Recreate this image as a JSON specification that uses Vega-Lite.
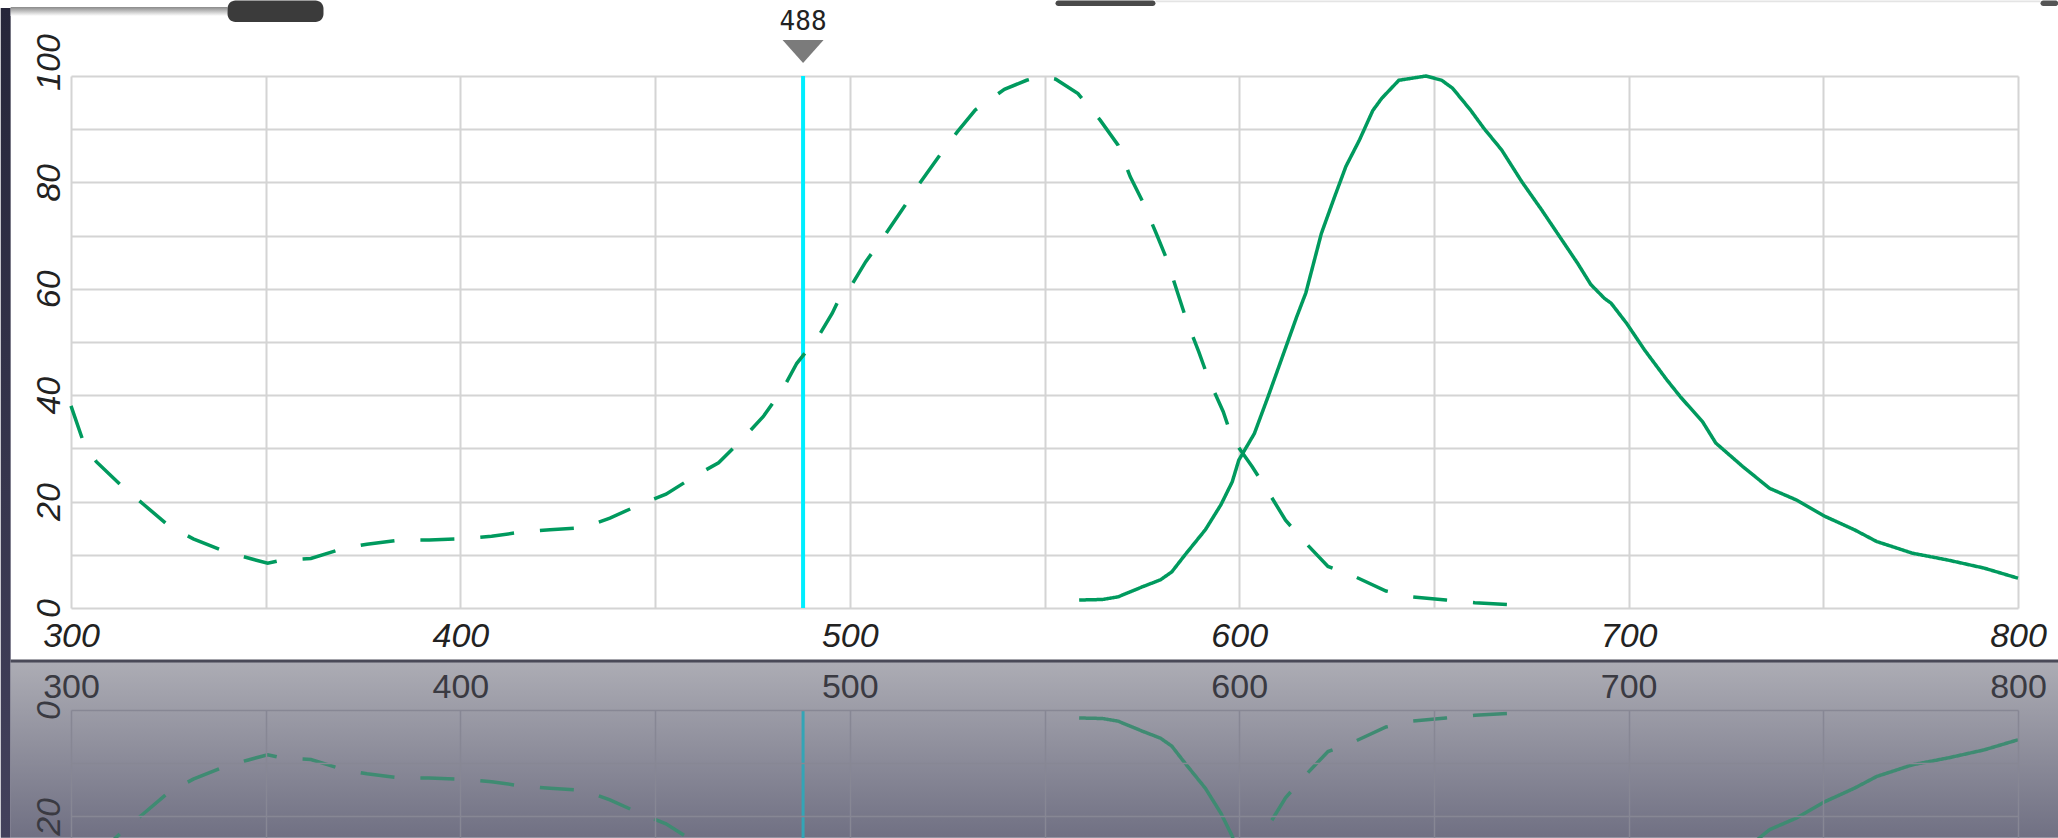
{
  "$schema": "https://vega.github.io/schema/vega-lite/v6.json",
  "autosize": {"type": "pad"},
  "padding": 0,
  "background": "white",
  "bounds": "flush",
  "spacing": 102,
  "config": {"view": {"stroke": null}},
  "datasets": {
    "laser": [{"wavelength": 488}],
    "spectra": [
      {"wl": 300, "v": 38, "s": "Excitation"}, {"wl": 303, "v": 31.6, "s": "Excitation"}, {"wl": 306.5, "v": 27.5, "s": "Excitation"},
      {"wl": 312.8, "v": 23.1, "s": "Excitation"}, {"wl": 318.6, "v": 19.5, "s": "Excitation"}, {"wl": 325.2, "v": 15.4, "s": "Excitation"},
      {"wl": 331.4, "v": 13, "s": "Excitation"}, {"wl": 339.6, "v": 10.6, "s": "Excitation"}, {"wl": 346, "v": 9.3, "s": "Excitation"},
      {"wl": 350.5, "v": 8.4, "s": "Excitation"}, {"wl": 354, "v": 9, "s": "Excitation"}, {"wl": 361.6, "v": 9.3, "s": "Excitation"},
      {"wl": 370, "v": 11.2, "s": "Excitation"}, {"wl": 376, "v": 12, "s": "Excitation"}, {"wl": 385, "v": 12.8, "s": "Excitation"},
      {"wl": 392, "v": 12.8, "s": "Excitation"}, {"wl": 400.7, "v": 13, "s": "Excitation"}, {"wl": 408, "v": 13.5, "s": "Excitation"},
      {"wl": 416, "v": 14.3, "s": "Excitation"}, {"wl": 423, "v": 14.7, "s": "Excitation"}, {"wl": 431.5, "v": 15.1, "s": "Excitation"},
      {"wl": 438.4, "v": 16.9, "s": "Excitation"}, {"wl": 446, "v": 19.4, "s": "Excitation"}, {"wl": 452.8, "v": 21.4, "s": "Excitation"},
      {"wl": 460.2, "v": 24.8, "s": "Excitation"}, {"wl": 466.3, "v": 27.3, "s": "Excitation"}, {"wl": 472.6, "v": 31.9, "s": "Excitation"},
      {"wl": 477.8, "v": 36, "s": "Excitation"}, {"wl": 482.9, "v": 41.3, "s": "Excitation"}, {"wl": 486.4, "v": 46, "s": "Excitation"},
      {"wl": 491.8, "v": 50.9, "s": "Excitation"}, {"wl": 495.5, "v": 55.4, "s": "Excitation"}, {"wl": 497.3, "v": 58.2, "s": "Excitation"},
      {"wl": 500.7, "v": 61, "s": "Excitation"}, {"wl": 504.1, "v": 65.1, "s": "Excitation"}, {"wl": 509.3, "v": 70.4, "s": "Excitation"},
      {"wl": 513.3, "v": 74.7, "s": "Excitation"}, {"wl": 517.9, "v": 79.8, "s": "Excitation"}, {"wl": 522.5, "v": 84.5, "s": "Excitation"},
      {"wl": 527.6, "v": 89.5, "s": "Excitation"}, {"wl": 532.2, "v": 93.6, "s": "Excitation"}, {"wl": 539.7, "v": 97.5, "s": "Excitation"},
      {"wl": 545.4, "v": 99.2, "s": "Excitation"}, {"wl": 549, "v": 100, "s": "Excitation"}, {"wl": 552.9, "v": 99.4, "s": "Excitation"},
      {"wl": 558.6, "v": 96.7, "s": "Excitation"}, {"wl": 564.3, "v": 91.7, "s": "Excitation"}, {"wl": 568.9, "v": 87, "s": "Excitation"},
      {"wl": 572, "v": 81.1, "s": "Excitation"}, {"wl": 575.2, "v": 76.4, "s": "Excitation"}, {"wl": 578.7, "v": 70.4, "s": "Excitation"},
      {"wl": 581.5, "v": 65.4, "s": "Excitation"}, {"wl": 584.2, "v": 59.2, "s": "Excitation"}, {"wl": 586.6, "v": 53.8, "s": "Excitation"},
      {"wl": 589.6, "v": 48.2, "s": "Excitation"}, {"wl": 592.2, "v": 42.9, "s": "Excitation"}, {"wl": 595.9, "v": 36.9, "s": "Excitation"},
      {"wl": 598.2, "v": 31.9, "s": "Excitation"}, {"wl": 603.3, "v": 26.6, "s": "Excitation"}, {"wl": 607.4, "v": 21.9, "s": "Excitation"},
      {"wl": 611.9, "v": 16.5, "s": "Excitation"}, {"wl": 617.1, "v": 12.2, "s": "Excitation"}, {"wl": 622.8, "v": 7.8, "s": "Excitation"},
      {"wl": 629.7, "v": 5.9, "s": "Excitation"}, {"wl": 637.7, "v": 3.2, "s": "Excitation"}, {"wl": 644.5, "v": 2.1, "s": "Excitation"},
      {"wl": 653.1, "v": 1.5, "s": "Excitation"}, {"wl": 660.5, "v": 1, "s": "Excitation"}, {"wl": 669.7, "v": 0.6, "s": "Excitation"},
      {"wl": 558.9, "v": 1.5, "s": "Emission"}, {"wl": 564.9, "v": 1.6, "s": "Emission"}, {"wl": 568.9, "v": 2.1, "s": "Emission"},
      {"wl": 575.2, "v": 4, "s": "Emission"}, {"wl": 579.8, "v": 5.3, "s": "Emission"}, {"wl": 582.7, "v": 6.8, "s": "Emission"},
      {"wl": 586.1, "v": 10, "s": "Emission"}, {"wl": 591.3, "v": 14.7, "s": "Emission"}, {"wl": 595.3, "v": 19.4, "s": "Emission"},
      {"wl": 598.2, "v": 23.7, "s": "Emission"}, {"wl": 599.9, "v": 27.8, "s": "Emission"}, {"wl": 603.9, "v": 32.8, "s": "Emission"},
      {"wl": 607.4, "v": 39.7, "s": "Emission"}, {"wl": 610.2, "v": 45.4, "s": "Emission"}, {"wl": 612.5, "v": 50.1, "s": "Emission"},
      {"wl": 614.8, "v": 54.8, "s": "Emission"}, {"wl": 617.1, "v": 59.2, "s": "Emission"}, {"wl": 621.1, "v": 70.4, "s": "Emission"},
      {"wl": 624.5, "v": 77.3, "s": "Emission"}, {"wl": 627.4, "v": 83, "s": "Emission"}, {"wl": 630.9, "v": 88, "s": "Emission"},
      {"wl": 634.3, "v": 93.5, "s": "Emission"}, {"wl": 636.6, "v": 95.8, "s": "Emission"}, {"wl": 641, "v": 99.2, "s": "Emission"},
      {"wl": 648, "v": 100, "s": "Emission"}, {"wl": 652, "v": 99.2, "s": "Emission"}, {"wl": 654.8, "v": 97.7, "s": "Emission"},
      {"wl": 659.4, "v": 93.6, "s": "Emission"}, {"wl": 662.8, "v": 90.2, "s": "Emission"}, {"wl": 667.4, "v": 86.1, "s": "Emission"},
      {"wl": 672.6, "v": 80.1, "s": "Emission"}, {"wl": 677.7, "v": 74.8, "s": "Emission"}, {"wl": 682.3, "v": 69.8, "s": "Emission"},
      {"wl": 686.9, "v": 64.8, "s": "Emission"}, {"wl": 690.3, "v": 60.8, "s": "Emission"}, {"wl": 693.8, "v": 58.2, "s": "Emission"},
      {"wl": 695.5, "v": 57.3, "s": "Emission"}, {"wl": 699.5, "v": 53.5, "s": "Emission"}, {"wl": 704.1, "v": 48.5, "s": "Emission"},
      {"wl": 709.8, "v": 42.9, "s": "Emission"}, {"wl": 713.3, "v": 39.7, "s": "Emission"}, {"wl": 719, "v": 35, "s": "Emission"},
      {"wl": 722.4, "v": 31, "s": "Emission"}, {"wl": 729.3, "v": 26.6, "s": "Emission"}, {"wl": 736.2, "v": 22.5, "s": "Emission"},
      {"wl": 743.1, "v": 20.3, "s": "Emission"}, {"wl": 750.5, "v": 17.2, "s": "Emission"}, {"wl": 758, "v": 14.7, "s": "Emission"},
      {"wl": 763.7, "v": 12.5, "s": "Emission"}, {"wl": 772.9, "v": 10.3, "s": "Emission"}, {"wl": 782.1, "v": 9, "s": "Emission"},
      {"wl": 791.3, "v": 7.5, "s": "Emission"}, {"wl": 800, "v": 5.6, "s": "Emission"}
    ]
  },
  "vconcat": [
    {
      "width": 1947,
      "height": 532,
      "layer": [
        {
          "data": {"values": [{}]},
          "mark": {"type": "rect", "color": {"gradient": "linear", "x1": 0, "y1": 0, "x2": 0, "y2": 1, "stops": [{"offset": 0, "color": "#26263a"}, {"offset": 1, "color": "#43415c"}]}},
          "encoding": {
            "x": {"datum": 281.95, "scale": {"domain": [300, 800], "nice": false, "zero": false}},
            "x2": {"datum": 284.5},
            "y": {"datum": 112.78, "scale": {"domain": [0, 100], "nice": false}},
            "y2": {"datum": -43.2}
          }
        },
        {
          "data": {"values": [{}]},
          "mark": {"type": "rect", "color": {"gradient": "linear", "x1": 0, "y1": 0, "x2": 0, "y2": 1, "stops": [{"offset": 0, "color": "#8a8a8a"}, {"offset": 1, "color": "#ffffff"}]}},
          "encoding": {"x": {"datum": 284.5}, "x2": {"datum": 340.19}, "y": {"datum": 112.97}, "y2": {"datum": 111.28}}
        },
        {
          "data": {"values": [{}]},
          "mark": {"type": "rect", "color": "#3b3b3b", "cornerRadius": 8},
          "encoding": {"x": {"datum": 340.19}, "x2": {"datum": 364.84}, "y": {"datum": 114.2}, "y2": {"datum": 110.15}}
        },
        {
          "data": {"values": [{}]},
          "mark": {"type": "rect", "color": "#4a4a4a", "cornerRadius": 3},
          "encoding": {"x": {"datum": 552.82}, "x2": {"datum": 578.5}, "y": {"datum": 114.2}, "y2": {"datum": 113.16}}
        },
        {
          "data": {"values": [{}]},
          "mark": {"type": "rect", "color": "#e4e4e4"},
          "encoding": {"x": {"datum": 578.5}, "x2": {"datum": 805.78}, "y": {"datum": 114.2}, "y2": {"datum": 113.85}}
        },
        {
          "data": {"values": [{}]},
          "mark": {"type": "rect", "color": "#555555", "cornerRadius": 3},
          "encoding": {"x": {"datum": 805.78}, "x2": {"datum": 810.35}, "y": {"datum": 114.2}, "y2": {"datum": 113.16}}
        },
        {
          "data": {"name": "laser"},
          "mark": {"type": "rule", "color": "#00eeff", "strokeWidth": 4},
          "encoding": {"x": {"field": "wavelength", "type": "quantitative"}}
        },
        {
          "data": {"name": "spectra"},
          "mark": {"type": "line", "color": "#009a5e", "strokeWidth": 3.5},
          "encoding": {
            "x": {
              "field": "wl", "type": "quantitative",
              "scale": {"domain": [300, 800], "nice": false, "zero": false},
              "axis": {
                "title": null, "values": [300, 350, 400, 450, 500, 550, 600, 650, 700, 750, 800],
                "labelExpr": "datum.value % 100 === 0 ? datum.label : ''",
                "grid": true, "gridColor": "#d4d4d4", "gridWidth": 2,
                "domain": false, "ticks": false, "tickSize": 0,
                "labelFont": "Liberation Sans", "labelFontStyle": "italic", "labelFontSize": 34, "labelColor": "#222222",
                "labelPadding": 11, "labelBaseline": "top", "labelFlush": false, "labelOverlap": false
              }
            },
            "y": {
              "field": "v", "type": "quantitative",
              "scale": {"domain": [0, 100], "nice": false},
              "axis": {
                "title": null, "values": [0, 10, 20, 30, 40, 50, 60, 70, 80, 90, 100],
                "labelExpr": "datum.value % 20 === 0 ? datum.label : ''",
                "grid": true, "gridColor": "#d4d4d4", "gridWidth": 2,
                "domain": false, "ticks": false, "tickSize": 0,
                "labelFont": "Liberation Sans", "labelFontStyle": "italic", "labelFontSize": 34, "labelColor": "#222222",
                "labelAngle": 270, "labelAlign": "center", "labelBaseline": "alphabetic", "labelPadding": 12,
                "labelOffset": {"condition": {"test": "datum.value === 100", "value": -14}, "value": 0},
                "labelFlush": false, "labelOverlap": false
              }
            },
            "strokeDash": {
              "field": "s", "type": "nominal",
              "scale": {"domain": ["Excitation", "Emission"], "range": [[34, 26], [1, 0]]},
              "legend": null
            }
          }
        },
        {
          "data": {"name": "laser"},
          "mark": {"type": "point", "shape": "M-1,-0.56L1,-0.56L0,0.56Z", "filled": true, "color": "#7b7b7b", "size": 1681, "opacity": 1, "strokeWidth": 0},
          "encoding": {"x": {"field": "wavelength", "type": "quantitative"}, "y": {"datum": 104.6}}
        },
        {
          "data": {"name": "laser"},
          "mark": {"type": "text", "font": "DejaVu Sans Mono", "fontSize": 26, "color": "#222222", "baseline": "middle", "align": "center"},
          "encoding": {"x": {"field": "wavelength", "type": "quantitative"}, "y": {"datum": 110.2}, "text": {"field": "wavelength", "type": "quantitative"}}
        }
      ]
    },
    {
      "width": 1947,
      "height": 128,
      "layer": [
        {
          "data": {"values": [{}]},
          "mark": {"type": "rect", "color": {"gradient": "linear", "x1": 0, "y1": 0, "x2": 0, "y2": 1, "stops": [{"offset": 0, "color": "#4a4a58"}, {"offset": 0.012, "color": "#4a4a58"}, {"offset": 0.022, "color": "#acacb4"}, {"offset": 1, "color": "#707083"}]}},
          "encoding": {
            "x": {"datum": 284.5, "scale": {"domain": [300, 800], "nice": false, "zero": false}},
            "x2": {"datum": 810.35},
            "y": {"datum": -9.49, "scale": {"domain": [0, 24.06], "nice": false, "zero": false, "reverse": true}},
            "y2": {"datum": 24.0}
          }
        },
        {
          "data": {"name": "laser"},
          "mark": {"type": "rule", "color": "#33a5b6", "strokeWidth": 3},
          "encoding": {"x": {"field": "wavelength", "type": "quantitative"}}
        },
        {
          "data": {"name": "spectra"},
          "mark": {"type": "line", "color": "#3f8b72", "strokeWidth": 3.5, "clip": true},
          "encoding": {
            "x": {
              "field": "wl", "type": "quantitative",
              "scale": {"domain": [300, 800], "nice": false, "zero": false},
              "axis": {
                "orient": "top", "title": null, "values": [300, 350, 400, 450, 500, 550, 600, 650, 700, 750, 800],
                "labelExpr": "datum.value % 100 === 0 ? datum.label : ''",
                "grid": true, "gridColor": "#878794", "gridWidth": 1.5, "zindex": 1,
                "domain": false, "ticks": false, "tickSize": 0,
                "labelFont": "Liberation Sans", "labelFontSize": 34, "labelColor": "#3a3a42",
                "labelPadding": 13, "labelBaseline": "alphabetic", "labelFlush": false, "labelOverlap": false
              }
            },
            "y": {
              "field": "v", "type": "quantitative",
              "scale": {"domain": [0, 24.06], "nice": false, "zero": false, "reverse": true},
              "axis": {
                "title": null, "values": [0, 10, 20],
                "labelExpr": "datum.value % 20 === 0 ? datum.label : ''",
                "grid": true, "gridColor": "#878794", "gridWidth": 1.5, "zindex": 1,
                "domain": false, "ticks": false, "tickSize": 0,
                "labelFont": "Liberation Sans", "labelFontStyle": "italic", "labelFontSize": 34, "labelColor": "#3a3a42",
                "labelAngle": 270, "labelAlign": "center", "labelBaseline": "alphabetic", "labelPadding": 12,
                "labelFlush": false, "labelOverlap": false
              }
            },
            "strokeDash": {
              "field": "s", "type": "nominal",
              "scale": {"domain": ["Excitation", "Emission"], "range": [[34, 26], [1, 0]]},
              "legend": null
            }
          }
        }
      ]
    }
  ]
}
